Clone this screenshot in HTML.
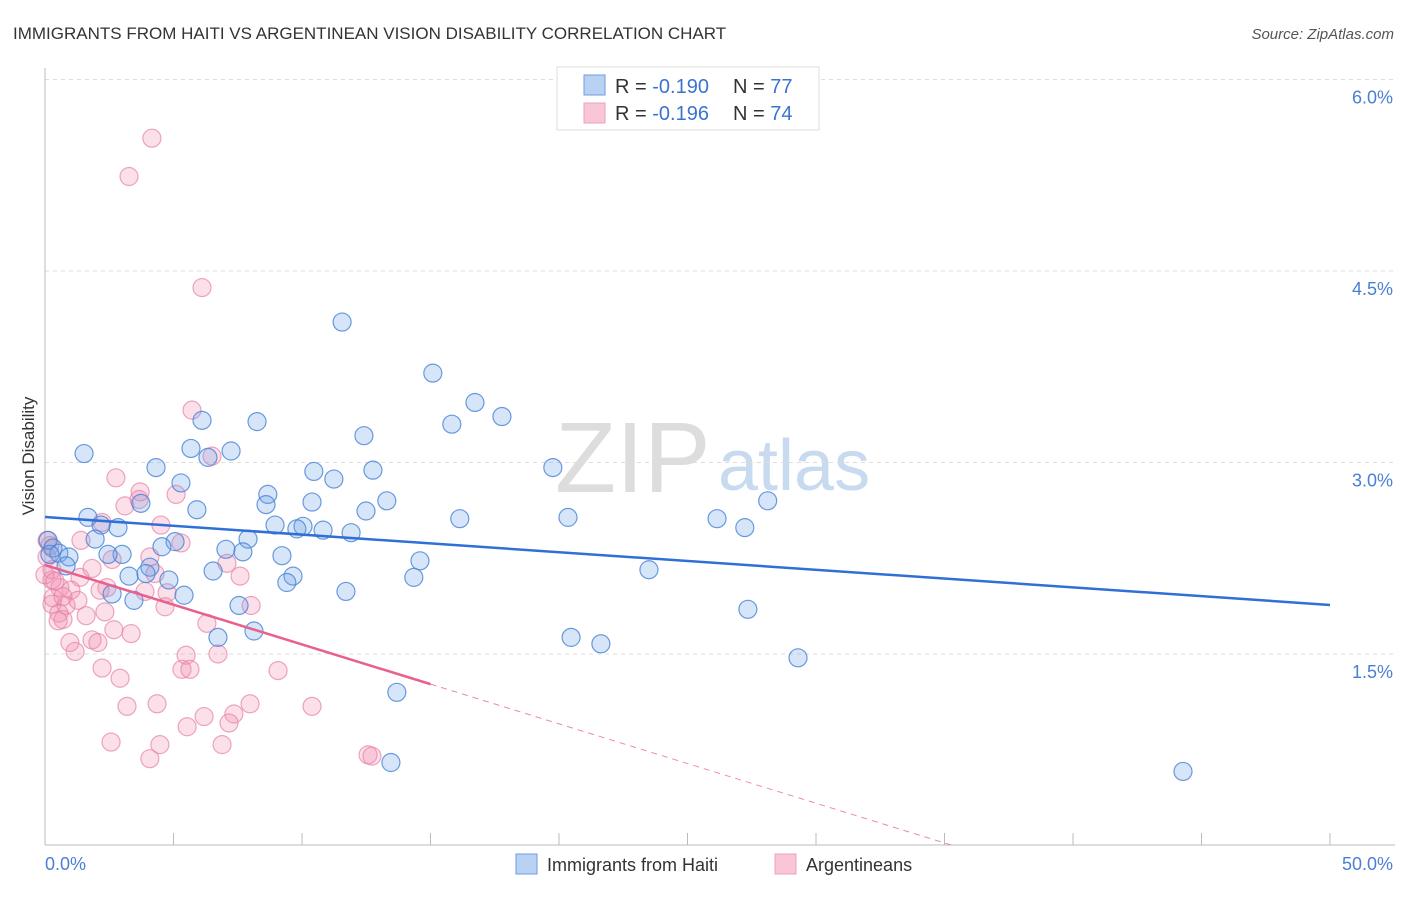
<!DOCTYPE html>
<html><head><meta charset="utf-8"><style>
body{margin:0;background:#fff;font-family:"Liberation Sans",sans-serif}
svg text{font-family:"Liberation Sans",sans-serif}
</style></head><body>
<svg width="1406" height="892" xmlns="http://www.w3.org/2000/svg">
<text x="13" y="39" font-size="17" fill="#333">IMMIGRANTS FROM HAITI VS ARGENTINEAN VISION DISABILITY CORRELATION CHART</text>
<text x="1394" y="39" font-size="15" fill="#555" text-anchor="end" font-style="italic">Source: ZipAtlas.com</text>
<g>
<text x="555" y="492" font-size="100" fill="#ddd" font-family="Liberation Serif, serif">ZIP</text>
<text x="718" y="490" font-size="72" fill="#c8daf0">atlas</text>
</g>
<g id="grid"></g>
<line x1="45" y1="68" x2="45" y2="845" stroke="#bbb"/>
<line x1="45" y1="845" x2="1395" y2="845" stroke="#bbb"/>
<text transform="translate(34,456) rotate(-90)" font-size="17" fill="#333" text-anchor="middle">Vision Disability</text>
<text x="45" y="870" font-size="18" fill="#4a7fd4">0.0%</text>
<text x="1393" y="870" font-size="18" fill="#4a7fd4" text-anchor="end">50.0%</text>
<g id="ticks"></g>
<g id="pts"></g>
<g id="trend"></g>
<g>
<rect x="557" y="67" width="262" height="63" fill="#fff" stroke="#ddd"/>
<rect x="584" y="75" width="21" height="20" fill="#b9d1f3" stroke="#6f9be0"/>
<rect x="584" y="103" width="21" height="20" fill="#f8c6d5" stroke="#eba3bb"/>
<text x="615" y="93" font-size="20" fill="#333">R = <tspan fill="#3a74d0">-0.190</tspan></text>
<text x="733" y="93" font-size="20" fill="#333">N = <tspan fill="#3a74d0">77</tspan></text>
<text x="615" y="120" font-size="20" fill="#333">R = <tspan fill="#3a74d0"> -0.196</tspan></text>
<text x="733" y="120" font-size="20" fill="#333">N = <tspan fill="#3a74d0">74</tspan></text>
</g>
<g>
<rect x="516" y="854" width="21" height="20" fill="#b9d1f3" stroke="#6f9be0"/>
<text x="547" y="871" font-size="18" fill="#333">Immigrants from Haiti</text>
<rect x="775" y="854" width="21" height="20" fill="#f8c6d5" stroke="#eba3bb"/>
<text x="806" y="871" font-size="18" fill="#333">Argentineans</text>
</g>
</svg>
<script>
const yTicks=[1.5,3.0,4.5,6.0];
const yTickLabels=["1.5%","3.0%","4.5%","6.0%"];
const xTickVals=[0,5,10,15,20,25,30,35,40,45,50];
const haitiX=[11.56,15.09,16.73,17.78,15.83,12.41,6.11,8.25,1.52,5.68,7.24,6.34,4.32,10.46,12.76,19.76,11.24,5.29,8.67,3.73,8.60,10.39,13.30,5.91,12.49,1.67,16.14,20.35,26.15,28.12,27.23,2.18,2.84,8.95,10.04,9.80,10.82,11.91,1.95,7.90,0.12,0.31,5.06,4.55,7.04,7.70,0.54,0.93,3.00,2.45,9.22,14.59,0.82,4.08,6.54,3.27,3.93,4.82,9.65,14.35,23.50,9.41,11.71,2.61,5.41,3.46,7.55,27.35,6.73,8.13,20.47,21.63,29.30,13.69,13.46,44.28,0.19];
const haitiY=[4.10,3.70,3.47,3.36,3.30,3.21,3.33,3.32,3.07,3.11,3.09,3.04,2.96,2.93,2.94,2.96,2.87,2.84,2.75,2.68,2.67,2.69,2.70,2.63,2.62,2.57,2.56,2.57,2.56,2.70,2.49,2.51,2.49,2.51,2.50,2.48,2.47,2.45,2.40,2.40,2.39,2.33,2.38,2.34,2.32,2.30,2.29,2.26,2.28,2.28,2.27,2.23,2.19,2.18,2.15,2.11,2.13,2.08,2.11,2.10,2.16,2.06,1.99,1.97,1.96,1.92,1.88,1.85,1.63,1.68,1.63,1.58,1.47,1.20,0.65,0.58,2.28];
const argX=[4.16,3.27,6.11,5.72,6.50,2.76,3.70,5.10,3.11,3.66,2.22,4.51,1.40,5.29,4.08,2.61,7.08,1.83,4.28,7.59,0.27,1.36,0.58,2.41,3.89,4.75,1.01,0.31,2.14,0.27,0.82,1.28,0.54,1.60,0.70,2.33,4.67,8.02,6.30,2.68,0.51,3.35,1.83,2.06,0.97,1.17,5.49,6.73,2.22,5.33,5.64,9.07,2.92,3.19,4.36,7.98,10.39,7.35,6.19,5.53,7.16,2.57,4.47,6.89,4.08,12.57,12.72,0.08,0.19,0.08,0.27,0.0,0.39,0.70];
const argY=[5.54,5.24,4.37,3.41,3.05,2.88,2.77,2.75,2.66,2.71,2.53,2.51,2.39,2.37,2.26,2.24,2.21,2.17,2.13,2.11,2.08,2.10,2.02,2.02,1.99,1.98,2.00,1.94,2.00,1.89,1.88,1.92,1.82,1.80,1.77,1.83,1.87,1.88,1.74,1.69,1.76,1.66,1.61,1.59,1.59,1.52,1.49,1.50,1.39,1.38,1.38,1.37,1.31,1.09,1.11,1.11,1.09,1.03,1.01,0.93,0.96,0.81,0.79,0.79,0.68,0.71,0.70,2.39,2.35,2.26,2.16,2.12,2.07,1.95];
const haitiTrend=[2.573,1.884];
const argTrend=[2.197,1.264];
const argTrendSolidEnd=15;
const X0=45,X1=1330,Y0=845.5,PXPER=127.67;
const sx=v=>X0+(X1-X0)*v/50;
const sy=v=>Y0-v*PXPER;
const NS="http://www.w3.org/2000/svg";
function mk(tag,attrs,parent){const e=document.createElementNS(NS,tag);for(const k in attrs)e.setAttribute(k,attrs[k]);parent.appendChild(e);return e;}
const grid=document.getElementById('grid');
yTicks.forEach((t,i)=>{
 const l=mk('line',{x1:45,x2:1395,y1:sy(t),y2:sy(t),stroke:'#ddd','stroke-dasharray':'4,4'},grid);
 
 
 const tx=mk('text',{x:1393,y:sy(t)+24,'font-size':18,fill:'#4a7fd4','text-anchor':'end'},grid);
 tx.textContent=yTickLabels[i];
 
 
});
const ticks=document.getElementById('ticks');
xTickVals.forEach(v=>{
 const l=mk('line',{x1:sx(v),x2:sx(v),y1:833,y2:845,stroke:'#bbb'},ticks);
 
 
});
const pts=document.getElementById('pts');
argX.forEach((x,i)=>{
 const c=mk('circle',{cx:sx(x),cy:sy(argY[i]),r:9,fill:'rgba(240,140,175,0.28)',stroke:'rgba(230,130,165,0.7)','stroke-width':1.2},pts);
 
 
});
haitiX.forEach((x,i)=>{
 const c=mk('circle',{cx:sx(x),cy:sy(haitiY[i]),r:9,fill:'rgba(110,160,230,0.28)',stroke:'rgba(70,130,215,0.8)','stroke-width':1.2},pts);
 
 
});
const tr=document.getElementById('trend');
const hl=mk('line',{x1:sx(0),y1:sy(haitiTrend[0]),x2:sx(50),y2:sy(haitiTrend[1]),stroke:'#2f6fd6','stroke-width':2.5},tr);


const slope=(argTrend[1]-argTrend[0])/argTrendSolidEnd;
const zeroX=-argTrend[0]/slope;
const al=mk('line',{x1:sx(0),y1:sy(argTrend[0]),x2:sx(argTrendSolidEnd),y2:sy(argTrend[1]),stroke:'#e8608c','stroke-width':2.5},tr);


const ad=mk('line',{x1:sx(argTrendSolidEnd),y1:sy(argTrend[1]),x2:sx(zeroX),y2:sy(0),stroke:'#ec8aa8','stroke-width':1,'stroke-dasharray':'6,5'},tr);


</script>
</body></html>
